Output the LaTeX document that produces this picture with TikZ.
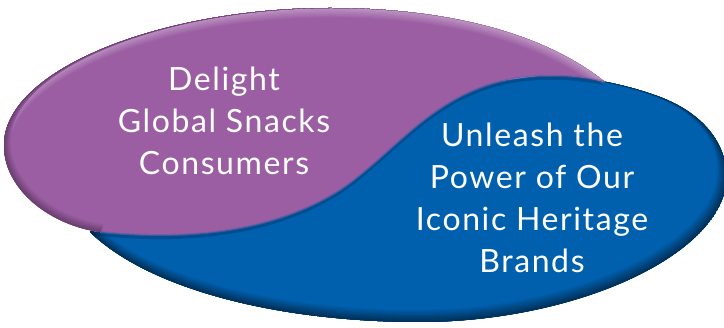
\documentclass[tikz,border=0pt]{standalone}
\usepackage{fontspec}
\setmainfont{Lato}
\newfontfamily\ovalfont{Lato}[LetterSpace=5]
\usetikzlibrary{positioning}
\definecolor{snackpurple}{RGB}{155,94,163}
\definecolor{heritageblue}{RGB}{0,96,174}

\def\blueoval{(90,232) .. controls (150,290) and (280,322) .. (420,322)
  .. controls (560,322) and (695,268) .. (722,200)
  .. controls (735,165) and (720,120) .. (660,97)
  .. controls (620,82) and (570,74) .. (540,76)
  .. controls (400,90) and (150,170) .. (90,232)}
\def\purpleedge{(605,82) .. controls (540,30) and (440,8) .. (330,8)
  .. controls (160,8) and (4,70) .. (4,145)
  .. controls (4,190) and (50,225) .. (100,232)}
\def\purplewave{(100,232) .. controls (200,242) and (280,228) .. (340,190)
  .. controls (400,150) and (440,80) .. (540,76)
  .. controls (570,75) and (590,78) .. (605,82)}

\tikzset{
  oval text/.style={text=white, align=center, font=\ovalfont\fontsize{32}{42}\selectfont},
}

\begin{document}
\begin{tikzpicture}[x=1pt,y=-1pt]
    \useasboundingbox (0,0) rectangle (724,328);
    % blue oval with a dark rim below
    \begin{scope}
      \clip \blueoval -- cycle;
      \fill[heritageblue] (0,0) rectangle (724,328);
      \foreach \k [evaluate=\k as \w using 1.5*(9-\k), evaluate=\k as \c using int(100-6*\k)] in {1,...,8}
        \draw[line width=\w pt, heritageblue!\c!black, yshift=\w/2 pt, xshift=-\w/4 pt] \blueoval;
      \fill[black, opacity=0.18, yshift=-4pt] \purpleedge -- \purplewave -- cycle;
    \end{scope}
    % purple oval with light top and dark lower rim
    \begin{scope}
      \clip \purpleedge -- \purplewave -- cycle;
      \fill[snackpurple] (0,0) rectangle (724,328);
      \foreach \k [evaluate=\k as \w using 1.2*(9-\k), evaluate=\k as \c using int(100-4*\k)] in {1,...,8}
        \draw[line width=\w pt, snackpurple!\c!white, yshift=-\w/2 pt] \purpleedge;
      \foreach \k [evaluate=\k as \w using 1.0*(9-\k), evaluate=\k as \c using int(100-4*\k)] in {1,...,8}
        \draw[line width=\w pt, snackpurple!\c!black, yshift=\w/2 pt, xshift=\w/3 pt] \purpleedge;
    \end{scope}
    \draw[line width=2pt, snackpurple!55!heritageblue, opacity=0.6] \purplewave;
    \node[oval text] (delight) at (224,121) {Delight\\Global Snacks\\Consumers};
    \node[oval text] (unleash) at (532,198) {Unleash the\\Power of Our\\Iconic Heritage\\Brands};
\end{tikzpicture}
\end{document}
